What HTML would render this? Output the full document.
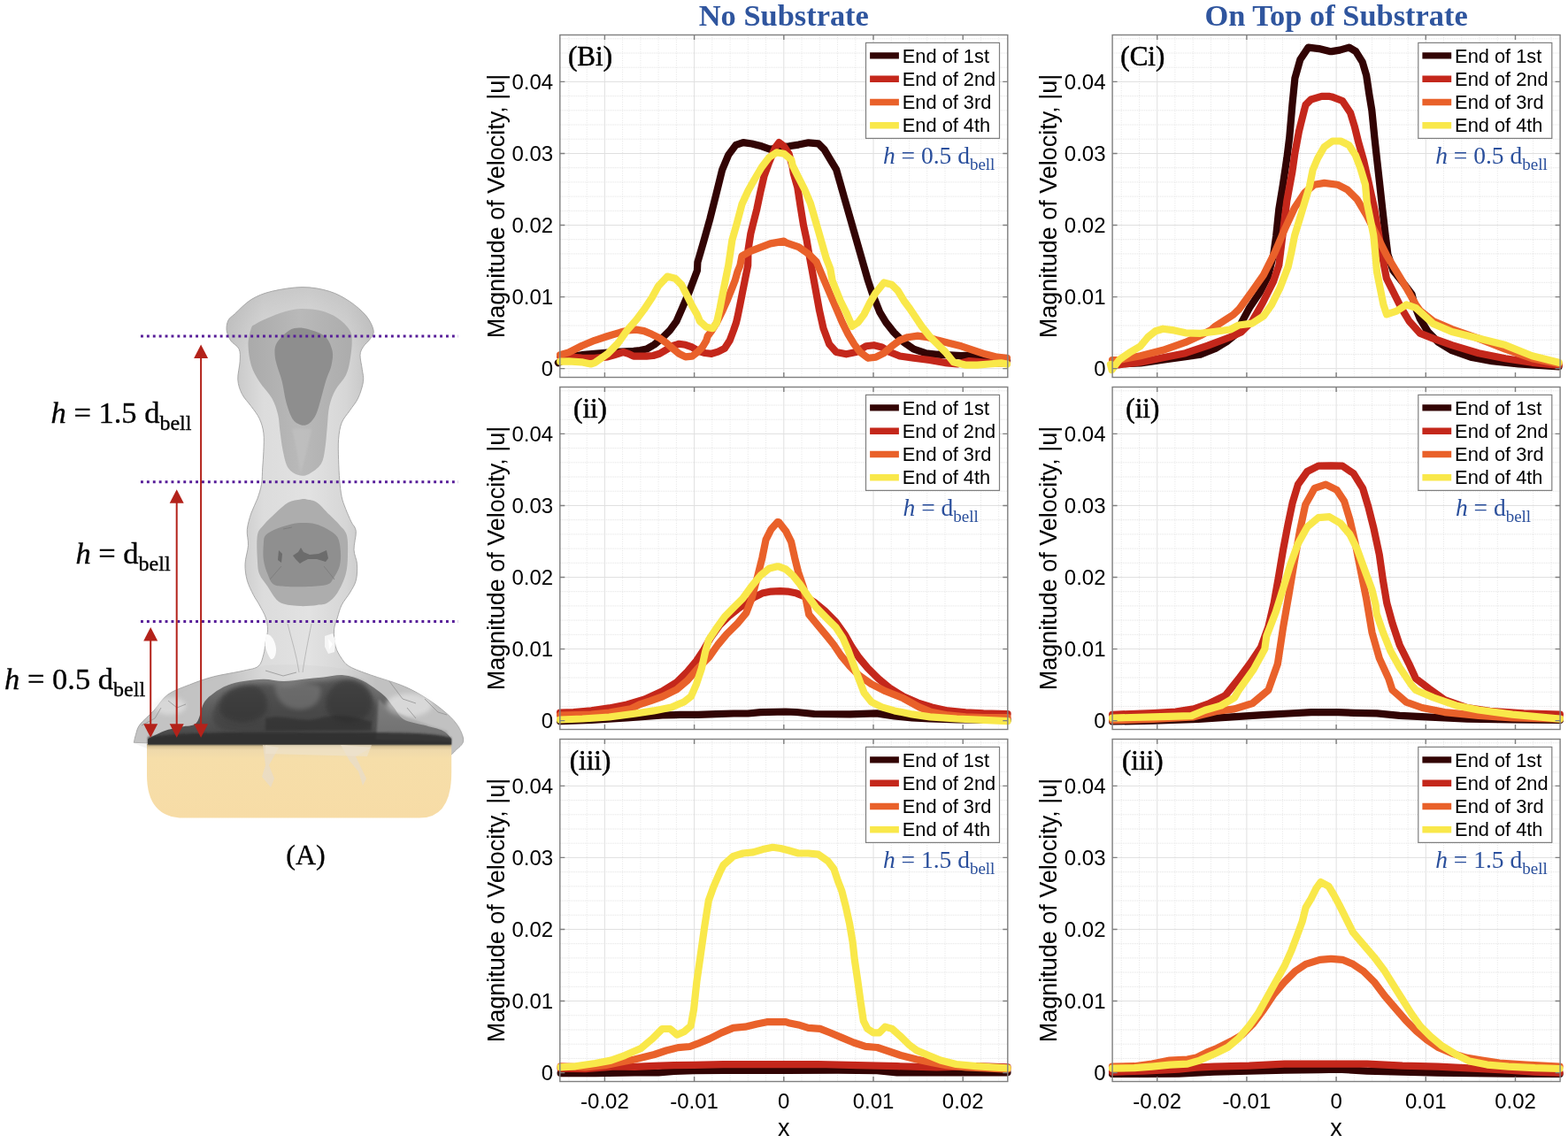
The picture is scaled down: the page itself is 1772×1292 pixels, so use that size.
<!DOCTYPE html><html><head><meta charset="utf-8"><style>html,body{margin:0;padding:0;background:#fff;}svg{display:block}</style></head><body>
<svg width="1772" height="1292" viewBox="0 0 1772 1292">
<rect width="1772" height="1292" fill="#fff"/>
<text x="885.8" y="28.9" font-family="Liberation Serif, serif" font-weight="bold" font-size="34.4" fill="#2f559e" text-anchor="middle">No Substrate</text>
<text x="1510.1" y="28.9" font-family="Liberation Serif, serif" font-weight="bold" font-size="34.4" fill="#2f559e" text-anchor="middle">On Top of Substrate</text>
<path d="M642.9 39.5V426.5M663.2 39.5V426.5M703.6 39.5V426.5M723.9 39.5V426.5M744.1 39.5V426.5M764.4 39.5V426.5M804.8 39.5V426.5M825.1 39.5V426.5M845.3 39.5V426.5M865.6 39.5V426.5M906.0 39.5V426.5M926.3 39.5V426.5M946.5 39.5V426.5M966.8 39.5V426.5M1007.2 39.5V426.5M1027.5 39.5V426.5M1047.7 39.5V426.5M1068.0 39.5V426.5M1108.4 39.5V426.5M1128.7 39.5V426.5" stroke="#e4e4e4" stroke-width="1" stroke-dasharray="1 1.6" fill="none"/>
<path d="M632.8 400.4H1138.8M632.8 384.2H1138.8M632.8 368.0H1138.8M632.8 351.8H1138.8M632.8 319.3H1138.8M632.8 303.1H1138.8M632.8 286.9H1138.8M632.8 270.7H1138.8M632.8 238.3H1138.8M632.8 222.1H1138.8M632.8 205.9H1138.8M632.8 189.7H1138.8M632.8 157.2H1138.8M632.8 141.0H1138.8M632.8 124.8H1138.8M632.8 108.6H1138.8M632.8 76.2H1138.8M632.8 60.0H1138.8M632.8 43.8H1138.8" stroke="#e2e2e2" stroke-width="1" stroke-dasharray="1 1" fill="none"/>
<path d="M683.4 39.5V426.5M784.6 39.5V426.5M885.8 39.5V426.5M987.0 39.5V426.5M632.8 416.6H1138.8M632.8 335.6H1138.8M632.8 254.5H1138.8M632.8 173.5H1138.8M632.8 92.4H1138.8" stroke="#e0e0e0" stroke-width="1" fill="none"/>
<g clip-path="none">
<path d="M630.9 410.1 L642.7 403.4 L657.3 401.2 L672.0 399.8 L686.7 398.6 L701.4 397.6 L716.0 396.8 L723.4 396.1 L730.7 394.6 L739.5 389.5 L748.3 382.2 L757.1 373.4 L764.5 363.1 L770.3 349.9 L774.7 339.6 L779.1 329.3 L783.5 317.6 L787.9 305.9 L788.4 296.3 L795.3 272.6 L802.3 247.6 L809.3 219.7 L816.2 191.8 L823.2 175.1 L831.6 163.9 L839.9 161.1 L849.7 162.5 L860.8 165.3 L870.6 168.8 L880.3 166.7 L891.5 165.3 L902.4 163.6 L913.7 161.3 L924.9 162.4 L931.6 169.2 L938.3 180.4 L945.1 191.6 L949.6 207.3 L954.0 223.0 L958.5 238.7 L963.0 254.4 L967.5 270.1 L972.0 285.9 L976.5 301.6 L981.0 317.3 L985.5 330.7 L989.9 341.9 L994.4 353.2 L1001.2 364.4 L1010.1 375.6 L1021.4 386.8 L1032.6 394.7 L1046.0 399.2 L1059.5 400.7 L1073.0 401.4 L1086.4 402.1 L1099.9 401.4 L1113.4 403.7 L1126.8 405.9 L1138.0 407.0" stroke="#320404" stroke-width="8.2" fill="none" stroke-linejoin="round" stroke-linecap="round"/>
<path d="M633.1 402.7 L642.7 403.4 L657.3 404.5 L672.0 404.9 L686.7 403.4 L694.0 401.2 L704.3 398.0 L710.2 399.8 L716.0 402.7 L723.4 402.7 L730.7 402.7 L738.1 402.0 L745.4 399.8 L752.7 395.4 L760.1 391.0 L767.4 388.8 L774.7 389.8 L782.1 392.4 L789.4 396.8 L796.7 399.0 L804.1 399.8 L811.4 397.6 L818.8 393.9 L824.6 385.1 L829.0 373.4 L832.0 364.6 L833.4 358.7 L836.4 344.0 L839.3 329.3 L842.2 314.7 L845.2 300.0 L845.5 282.4 L848.3 264.3 L851.1 253.1 L855.3 236.4 L859.4 216.9 L863.6 198.8 L869.2 183.4 L876.2 166.7 L880.3 161.1 L885.9 165.3 L891.5 173.7 L895.7 189.0 L896.8 196.1 L901.3 211.8 L904.7 234.2 L908.0 254.4 L911.4 270.1 L913.7 283.6 L917.0 301.6 L921.5 326.2 L926.0 350.9 L930.5 371.1 L937.2 389.1 L945.1 398.0 L956.3 400.3 L967.5 398.0 L978.7 391.3 L987.7 390.2 L996.7 392.4 L1005.7 398.0 L1016.9 402.5 L1032.6 404.8 L1050.5 407.0 L1070.7 410.4 L1081.9 411.5 L1095.4 408.1 L1108.9 409.3 L1122.3 410.4 L1138.0 410.4" stroke="#c4271b" stroke-width="8.2" fill="none" stroke-linejoin="round" stroke-linecap="round"/>
<path d="M633.1 401.2 L642.7 398.3 L657.3 391.0 L672.0 384.8 L686.7 380.0 L701.4 375.6 L710.2 373.4 L719.0 372.6 L727.8 374.1 L736.6 377.8 L745.4 382.2 L752.7 387.3 L760.1 393.9 L767.4 399.8 L774.7 403.4 L782.1 402.7 L787.9 398.3 L793.8 392.4 L798.2 385.1 L799.7 380.0 L804.1 374.1 L810.0 364.6 L815.8 352.8 L821.7 339.6 L827.6 324.9 L830.5 317.6 L833.4 307.3 L836.4 300.0 L838.5 289.4 L848.3 283.8 L859.4 279.6 L870.6 275.4 L885.9 272.6 L889.0 274.6 L902.4 279.1 L913.7 287.0 L922.6 295.9 L926.0 303.8 L931.6 317.3 L938.3 333.0 L945.1 348.7 L951.8 364.4 L958.5 377.8 L965.3 389.1 L972.0 398.0 L981.0 404.8 L989.9 403.7 L998.9 399.2 L1007.9 391.3 L1016.9 384.6 L1025.9 381.2 L1037.1 379.6 L1048.3 381.2 L1059.5 384.6 L1073.0 387.9 L1086.4 391.3 L1099.9 395.8 L1113.4 400.3 L1126.8 403.7 L1138.0 404.8" stroke="#e9612a" stroke-width="8.2" fill="none" stroke-linejoin="round" stroke-linecap="round"/>
<path d="M633.1 408.6 L642.7 408.3 L657.3 409.3 L667.6 411.5 L672.0 410.1 L686.7 399.8 L698.4 388.0 L708.7 373.4 L719.0 361.6 L727.8 349.9 L736.6 336.7 L743.9 323.5 L754.2 312.5 L763.0 314.7 L770.3 322.0 L776.2 333.7 L782.1 345.5 L787.9 355.8 L790.9 363.1 L798.2 369.7 L805.5 371.2 L810.0 364.6 L813.6 348.4 L817.3 329.3 L820.2 314.7 L823.2 300.0 L827.4 271.3 L833.0 251.7 L838.5 230.8 L845.5 215.5 L852.5 203.0 L860.8 189.0 L869.2 177.9 L877.6 172.3 L885.9 173.7 L894.3 180.7 L895.7 187.1 L902.4 200.6 L909.2 214.0 L915.9 229.8 L920.4 245.5 L924.9 261.2 L929.4 276.9 L933.9 292.6 L938.3 303.8 L940.6 317.3 L945.1 328.5 L949.6 339.7 L956.3 353.2 L963.0 368.9 L969.8 364.4 L976.5 355.4 L983.2 341.9 L989.9 330.7 L998.9 319.5 L1007.9 321.8 L1014.6 328.5 L1021.4 339.7 L1028.1 348.7 L1034.8 358.8 L1041.6 368.9 L1050.5 380.1 L1059.5 389.1 L1068.5 398.0 L1077.5 409.3 L1090.9 412.6 L1104.4 412.6 L1117.8 411.5 L1131.3 410.4 L1138.0 411.5" stroke="#f9e84a" stroke-width="8.2" fill="none" stroke-linejoin="round" stroke-linecap="round"/>
</g>
<rect x="632.8" y="39.5" width="506.0" height="387.0" fill="none" stroke="#7f7f7f" stroke-width="1.4"/>
<path d="M683.4 426.5v-5.5M683.4 39.5v5.5M784.6 426.5v-5.5M784.6 39.5v5.5M885.8 426.5v-5.5M885.8 39.5v5.5M987.0 426.5v-5.5M987.0 39.5v5.5M1088.2 426.5v-5.5M1088.2 39.5v5.5M632.8 416.6h5.5M1138.8 416.6h-5.5M632.8 335.6h5.5M1138.8 335.6h-5.5M632.8 254.5h5.5M1138.8 254.5h-5.5M632.8 173.5h5.5M1138.8 173.5h-5.5M632.8 92.4h5.5M1138.8 92.4h-5.5" stroke="#7f7f7f" stroke-width="1.4" fill="none"/>
<text x="625.2" y="425.0" font-family="Liberation Sans, sans-serif" font-size="24" text-anchor="end">0</text>
<text x="625.2" y="343.9" font-family="Liberation Sans, sans-serif" font-size="24" text-anchor="end">0.01</text>
<text x="625.2" y="262.9" font-family="Liberation Sans, sans-serif" font-size="24" text-anchor="end">0.02</text>
<text x="625.2" y="181.9" font-family="Liberation Sans, sans-serif" font-size="24" text-anchor="end">0.03</text>
<text x="625.2" y="100.8" font-family="Liberation Sans, sans-serif" font-size="24" text-anchor="end">0.04</text>
<text transform="translate(570.1,233.0) rotate(-90)" font-family="Liberation Sans, sans-serif" font-size="27" text-anchor="middle">Magnitude of Velocity, |u|</text>
<text x="667.0" y="74.0" font-family="Liberation Serif, serif" font-size="31" stroke="#000" stroke-width="0.55" text-anchor="middle">(Bi)</text>
<rect x="978.5" y="48.4" width="151" height="108" fill="#fff" stroke="#7f7f7f" stroke-width="1.2"/>
<path d="M983.1 62.9h32.8" stroke="#320404" stroke-width="7.4"/>
<text x="1019.8" y="70.5" font-family="Liberation Sans, sans-serif" font-size="21.8">End of 1st</text>
<path d="M983.1 89.2h32.8" stroke="#c4271b" stroke-width="7.4"/>
<text x="1019.8" y="96.8" font-family="Liberation Sans, sans-serif" font-size="21.8">End of 2nd</text>
<path d="M983.1 115.5h32.8" stroke="#e9612a" stroke-width="7.4"/>
<text x="1019.8" y="123.1" font-family="Liberation Sans, sans-serif" font-size="21.8">End of 3rd</text>
<path d="M983.1 141.8h32.8" stroke="#f9e84a" stroke-width="7.4"/>
<text x="1019.8" y="149.4" font-family="Liberation Sans, sans-serif" font-size="21.8">End of 4th</text>
<text x="997.9" y="185.0" font-family="Liberation Serif, serif" font-size="27.5" fill="#2a4f9c"><tspan font-style="italic">h</tspan> = 0.5 d<tspan font-size="19" dy="7">bell</tspan></text>
<path d="M642.9 437.5V824.5M663.2 437.5V824.5M703.6 437.5V824.5M723.9 437.5V824.5M744.1 437.5V824.5M764.4 437.5V824.5M804.8 437.5V824.5M825.1 437.5V824.5M845.3 437.5V824.5M865.6 437.5V824.5M906.0 437.5V824.5M926.3 437.5V824.5M946.5 437.5V824.5M966.8 437.5V824.5M1007.2 437.5V824.5M1027.5 437.5V824.5M1047.7 437.5V824.5M1068.0 437.5V824.5M1108.4 437.5V824.5M1128.7 437.5V824.5" stroke="#e4e4e4" stroke-width="1" stroke-dasharray="1 1.6" fill="none"/>
<path d="M632.8 798.4H1138.8M632.8 782.2H1138.8M632.8 766.0H1138.8M632.8 749.8H1138.8M632.8 717.3H1138.8M632.8 701.1H1138.8M632.8 684.9H1138.8M632.8 668.7H1138.8M632.8 636.3H1138.8M632.8 620.1H1138.8M632.8 603.9H1138.8M632.8 587.7H1138.8M632.8 555.2H1138.8M632.8 539.0H1138.8M632.8 522.8H1138.8M632.8 506.6H1138.8M632.8 474.2H1138.8M632.8 458.0H1138.8M632.8 441.8H1138.8" stroke="#e2e2e2" stroke-width="1" stroke-dasharray="1 1" fill="none"/>
<path d="M683.4 437.5V824.5M784.6 437.5V824.5M885.8 437.5V824.5M987.0 437.5V824.5M632.8 814.6H1138.8M632.8 733.6H1138.8M632.8 652.5H1138.8M632.8 571.5H1138.8M632.8 490.4H1138.8" stroke="#e0e0e0" stroke-width="1" fill="none"/>
<g clip-path="none">
<path d="M633.0 815.1 L668.2 813.9 L708.5 811.5 L728.6 809.9 L748.7 808.5 L768.9 807.9 L789.0 807.9 L809.1 807.1 L829.2 806.5 L845.3 806.5 L859.4 805.1 L888.0 804.5 L900.1 805.0 L920.2 807.0 L960.5 807.4 L990.7 806.4 L1010.8 809.4 L1030.9 811.4 L1051.0 812.5 L1081.2 813.5 L1138.6 813.9" stroke="#320404" stroke-width="8.2" fill="none" stroke-linejoin="round" stroke-linecap="round"/>
<path d="M633.0 805.5 L648.1 805.1 L668.2 803.4 L688.4 800.4 L708.5 796.4 L728.6 790.4 L748.7 781.3 L764.8 771.2 L776.9 759.2 L787.0 747.1 L795.0 735.0 L803.1 720.9 L813.1 706.8 L823.2 696.8 L833.3 688.7 L843.3 681.7 L851.4 675.7 L861.4 670.6 L871.5 668.6 L881.6 668.2 L890.1 668.6 L900.1 670.6 L910.2 674.6 L920.2 680.7 L932.3 690.7 L944.4 702.8 L954.4 716.9 L962.5 731.0 L970.5 743.0 L980.6 755.1 L992.7 767.2 L1004.7 777.2 L1020.8 787.3 L1036.9 794.3 L1053.0 799.4 L1071.1 803.4 L1091.3 805.4 L1111.4 806.4 L1138.6 807.0" stroke="#c4271b" stroke-width="8.2" fill="none" stroke-linejoin="round" stroke-linecap="round"/>
<path d="M633.0 808.5 L668.2 807.5 L688.4 805.5 L712.5 801.4 L722.6 796.4 L734.7 792.4 L748.7 787.3 L764.8 779.3 L776.9 769.2 L789.0 755.1 L801.1 743.1 L811.1 729.0 L821.2 716.9 L833.3 704.8 L843.3 692.8 L849.4 676.7 L855.4 654.5 L861.4 630.4 L865.5 610.2 L871.5 598.2 L878.6 590.1 L880.0 590.1 L888.0 600.2 L894.1 612.3 L898.1 630.4 L902.1 646.5 L908.2 664.6 L914.2 694.7 L924.3 706.8 L934.3 718.9 L942.4 729.0 L950.4 741.0 L960.5 753.1 L970.5 763.2 L984.6 773.2 L1000.7 781.3 L1020.8 789.3 L1039.0 799.4 L1051.0 804.4 L1071.1 808.4 L1091.3 810.4 L1111.4 811.0 L1138.6 811.0" stroke="#e9612a" stroke-width="8.2" fill="none" stroke-linejoin="round" stroke-linecap="round"/>
<path d="M633.0 813.5 L658.2 812.5 L688.4 810.5 L718.6 806.5 L738.7 803.4 L758.8 799.4 L772.9 793.4 L780.9 787.3 L787.0 773.3 L793.0 755.1 L797.0 737.0 L801.1 722.9 L809.1 710.9 L819.2 696.8 L829.2 686.7 L839.3 676.7 L849.4 662.6 L859.4 650.5 L869.5 642.4 L877.5 640.4 L880.0 640.4 L888.0 643.4 L896.1 650.5 L904.1 660.5 L912.2 672.6 L922.3 686.7 L934.3 698.8 L944.4 708.8 L952.4 720.9 L958.5 735.0 L964.5 751.1 L970.5 767.2 L976.6 783.3 L984.6 793.3 L996.7 799.4 L1010.8 803.4 L1030.9 807.4 L1051.0 810.4 L1081.2 812.5 L1111.4 813.9 L1138.6 815.1" stroke="#f9e84a" stroke-width="8.2" fill="none" stroke-linejoin="round" stroke-linecap="round"/>
</g>
<rect x="632.8" y="437.5" width="506.0" height="387.0" fill="none" stroke="#7f7f7f" stroke-width="1.4"/>
<path d="M683.4 824.5v-5.5M683.4 437.5v5.5M784.6 824.5v-5.5M784.6 437.5v5.5M885.8 824.5v-5.5M885.8 437.5v5.5M987.0 824.5v-5.5M987.0 437.5v5.5M1088.2 824.5v-5.5M1088.2 437.5v5.5M632.8 814.6h5.5M1138.8 814.6h-5.5M632.8 733.6h5.5M1138.8 733.6h-5.5M632.8 652.5h5.5M1138.8 652.5h-5.5M632.8 571.5h5.5M1138.8 571.5h-5.5M632.8 490.4h5.5M1138.8 490.4h-5.5" stroke="#7f7f7f" stroke-width="1.4" fill="none"/>
<text x="625.2" y="823.0" font-family="Liberation Sans, sans-serif" font-size="24" text-anchor="end">0</text>
<text x="625.2" y="742.0" font-family="Liberation Sans, sans-serif" font-size="24" text-anchor="end">0.01</text>
<text x="625.2" y="660.9" font-family="Liberation Sans, sans-serif" font-size="24" text-anchor="end">0.02</text>
<text x="625.2" y="579.9" font-family="Liberation Sans, sans-serif" font-size="24" text-anchor="end">0.03</text>
<text x="625.2" y="498.8" font-family="Liberation Sans, sans-serif" font-size="24" text-anchor="end">0.04</text>
<text transform="translate(570.1,631.0) rotate(-90)" font-family="Liberation Sans, sans-serif" font-size="27" text-anchor="middle">Magnitude of Velocity, |u|</text>
<text x="667.0" y="472.0" font-family="Liberation Serif, serif" font-size="31" stroke="#000" stroke-width="0.55" text-anchor="middle">(ii)</text>
<rect x="978.5" y="446.4" width="151" height="108" fill="#fff" stroke="#7f7f7f" stroke-width="1.2"/>
<path d="M983.1 460.9h32.8" stroke="#320404" stroke-width="7.4"/>
<text x="1019.8" y="468.5" font-family="Liberation Sans, sans-serif" font-size="21.8">End of 1st</text>
<path d="M983.1 487.2h32.8" stroke="#c4271b" stroke-width="7.4"/>
<text x="1019.8" y="494.8" font-family="Liberation Sans, sans-serif" font-size="21.8">End of 2nd</text>
<path d="M983.1 513.5h32.8" stroke="#e9612a" stroke-width="7.4"/>
<text x="1019.8" y="521.1" font-family="Liberation Sans, sans-serif" font-size="21.8">End of 3rd</text>
<path d="M983.1 539.8h32.8" stroke="#f9e84a" stroke-width="7.4"/>
<text x="1019.8" y="547.4" font-family="Liberation Sans, sans-serif" font-size="21.8">End of 4th</text>
<text x="1020.6" y="583.0" font-family="Liberation Serif, serif" font-size="27.5" fill="#2a4f9c"><tspan font-style="italic">h</tspan> = d<tspan font-size="19" dy="7">bell</tspan></text>
<path d="M642.9 835.5V1222.5M663.2 835.5V1222.5M703.6 835.5V1222.5M723.9 835.5V1222.5M744.1 835.5V1222.5M764.4 835.5V1222.5M804.8 835.5V1222.5M825.1 835.5V1222.5M845.3 835.5V1222.5M865.6 835.5V1222.5M906.0 835.5V1222.5M926.3 835.5V1222.5M946.5 835.5V1222.5M966.8 835.5V1222.5M1007.2 835.5V1222.5M1027.5 835.5V1222.5M1047.7 835.5V1222.5M1068.0 835.5V1222.5M1108.4 835.5V1222.5M1128.7 835.5V1222.5" stroke="#e4e4e4" stroke-width="1" stroke-dasharray="1 1.6" fill="none"/>
<path d="M632.8 1196.4H1138.8M632.8 1180.2H1138.8M632.8 1164.0H1138.8M632.8 1147.8H1138.8M632.8 1115.3H1138.8M632.8 1099.1H1138.8M632.8 1082.9H1138.8M632.8 1066.7H1138.8M632.8 1034.3H1138.8M632.8 1018.1H1138.8M632.8 1001.9H1138.8M632.8 985.7H1138.8M632.8 953.2H1138.8M632.8 937.0H1138.8M632.8 920.8H1138.8M632.8 904.6H1138.8M632.8 872.2H1138.8M632.8 856.0H1138.8M632.8 839.8H1138.8" stroke="#e2e2e2" stroke-width="1" stroke-dasharray="1 1" fill="none"/>
<path d="M683.4 835.5V1222.5M784.6 835.5V1222.5M885.8 835.5V1222.5M987.0 835.5V1222.5M632.8 1212.6H1138.8M632.8 1131.5H1138.8M632.8 1050.5H1138.8M632.8 969.4H1138.8M632.8 888.4H1138.8" stroke="#e0e0e0" stroke-width="1" fill="none"/>
<g clip-path="none">
<path d="M633.6 1213.1 L672.6 1213.1 L717.2 1212.5 L743.9 1212.5 L761.8 1210.9 L784.1 1210.2 L817.5 1209.8 L851.0 1209.8 L888.0 1209.8 L946.9 1209.7 L991.4 1210.1 L1013.7 1212.3 L1058.3 1212.3 L1102.9 1212.3 L1138.5 1212.3" stroke="#320404" stroke-width="8.2" fill="none" stroke-linejoin="round" stroke-linecap="round"/>
<path d="M633.6 1207.6 L661.4 1208.2 L683.7 1206.4 L694.9 1205.3 L717.2 1205.8 L739.5 1204.9 L761.8 1204.2 L784.1 1203.8 L817.5 1203.1 L851.0 1203.1 L888.0 1203.1 L924.6 1203.0 L969.1 1204.1 L1013.7 1205.2 L1058.3 1206.3 L1102.9 1205.2 L1138.5 1206.3" stroke="#c4271b" stroke-width="8.2" fill="none" stroke-linejoin="round" stroke-linecap="round"/>
<path d="M633.6 1205.3 L661.4 1206.4 L683.7 1204.2 L699.3 1200.9 L717.2 1197.5 L739.5 1192.0 L752.9 1187.5 L766.2 1184.1 L779.6 1183.0 L788.5 1179.7 L801.9 1174.1 L815.3 1167.4 L828.7 1161.9 L842.0 1160.7 L855.4 1157.4 L866.6 1155.2 L888.0 1155.2 L891.1 1156.2 L902.3 1158.4 L913.4 1161.8 L926.8 1162.9 L937.9 1167.3 L951.3 1172.9 L964.7 1178.5 L978.1 1182.9 L991.4 1184.0 L1004.8 1188.5 L1018.2 1193.0 L1036.0 1197.4 L1053.8 1201.2 L1069.4 1204.1 L1091.7 1206.3 L1114.0 1207.4 L1138.5 1208.6" stroke="#e9612a" stroke-width="8.2" fill="none" stroke-linejoin="round" stroke-linecap="round"/>
<path d="M633.6 1206.4 L650.3 1205.3 L672.6 1202.0 L690.4 1198.6 L706.0 1193.1 L723.9 1185.3 L737.3 1174.1 L748.4 1163.0 L757.3 1163.0 L765.1 1169.7 L772.9 1166.3 L780.7 1159.6 L784.1 1140.7 L787.4 1109.5 L791.9 1078.2 L796.3 1047.0 L800.8 1018.0 L806.4 1002.4 L813.1 986.8 L817.5 977.9 L828.7 967.9 L839.8 964.5 L851.0 963.4 L862.1 960.1 L873.3 957.8 L882.2 959.0 L891.1 961.2 L902.3 964.5 L913.4 964.5 L924.6 965.6 L935.7 973.4 L942.4 982.3 L946.9 995.7 L951.3 1006.9 L955.8 1024.7 L960.2 1044.7 L963.6 1064.8 L965.8 1084.9 L969.1 1107.1 L972.5 1131.7 L975.8 1154.0 L980.3 1162.9 L987.0 1167.3 L993.7 1167.3 L1000.3 1160.6 L1008.1 1162.9 L1018.2 1171.8 L1027.1 1180.7 L1036.0 1187.4 L1049.4 1193.0 L1062.8 1198.5 L1080.6 1203.0 L1102.9 1205.2 L1120.7 1206.3 L1138.5 1207.4" stroke="#f9e84a" stroke-width="8.2" fill="none" stroke-linejoin="round" stroke-linecap="round"/>
</g>
<rect x="632.8" y="835.5" width="506.0" height="387.0" fill="none" stroke="#7f7f7f" stroke-width="1.4"/>
<path d="M683.4 1222.5v-5.5M683.4 835.5v5.5M784.6 1222.5v-5.5M784.6 835.5v5.5M885.8 1222.5v-5.5M885.8 835.5v5.5M987.0 1222.5v-5.5M987.0 835.5v5.5M1088.2 1222.5v-5.5M1088.2 835.5v5.5M632.8 1212.6h5.5M1138.8 1212.6h-5.5M632.8 1131.5h5.5M1138.8 1131.5h-5.5M632.8 1050.5h5.5M1138.8 1050.5h-5.5M632.8 969.4h5.5M1138.8 969.4h-5.5M632.8 888.4h5.5M1138.8 888.4h-5.5" stroke="#7f7f7f" stroke-width="1.4" fill="none"/>
<text x="625.2" y="1221.0" font-family="Liberation Sans, sans-serif" font-size="24" text-anchor="end">0</text>
<text x="625.2" y="1140.0" font-family="Liberation Sans, sans-serif" font-size="24" text-anchor="end">0.01</text>
<text x="625.2" y="1058.9" font-family="Liberation Sans, sans-serif" font-size="24" text-anchor="end">0.02</text>
<text x="625.2" y="977.8" font-family="Liberation Sans, sans-serif" font-size="24" text-anchor="end">0.03</text>
<text x="625.2" y="896.8" font-family="Liberation Sans, sans-serif" font-size="24" text-anchor="end">0.04</text>
<text transform="translate(570.1,1029.0) rotate(-90)" font-family="Liberation Sans, sans-serif" font-size="27" text-anchor="middle">Magnitude of Velocity, |u|</text>
<text x="683.4" y="1252.5" font-family="Liberation Sans, sans-serif" font-size="24" text-anchor="middle">-0.02</text>
<text x="784.6" y="1252.5" font-family="Liberation Sans, sans-serif" font-size="24" text-anchor="middle">-0.01</text>
<text x="885.8" y="1252.5" font-family="Liberation Sans, sans-serif" font-size="24" text-anchor="middle">0</text>
<text x="987.0" y="1252.5" font-family="Liberation Sans, sans-serif" font-size="24" text-anchor="middle">0.01</text>
<text x="1088.2" y="1252.5" font-family="Liberation Sans, sans-serif" font-size="24" text-anchor="middle">0.02</text>
<text x="885.8" y="1284" font-family="Liberation Sans, sans-serif" font-size="27" text-anchor="middle">x</text>
<text x="667.0" y="870.0" font-family="Liberation Serif, serif" font-size="31" stroke="#000" stroke-width="0.55" text-anchor="middle">(iii)</text>
<rect x="978.5" y="844.4" width="151" height="108" fill="#fff" stroke="#7f7f7f" stroke-width="1.2"/>
<path d="M983.1 858.9h32.8" stroke="#320404" stroke-width="7.4"/>
<text x="1019.8" y="866.5" font-family="Liberation Sans, sans-serif" font-size="21.8">End of 1st</text>
<path d="M983.1 885.2h32.8" stroke="#c4271b" stroke-width="7.4"/>
<text x="1019.8" y="892.8" font-family="Liberation Sans, sans-serif" font-size="21.8">End of 2nd</text>
<path d="M983.1 911.5h32.8" stroke="#e9612a" stroke-width="7.4"/>
<text x="1019.8" y="919.1" font-family="Liberation Sans, sans-serif" font-size="21.8">End of 3rd</text>
<path d="M983.1 937.8h32.8" stroke="#f9e84a" stroke-width="7.4"/>
<text x="1019.8" y="945.4" font-family="Liberation Sans, sans-serif" font-size="21.8">End of 4th</text>
<text x="997.9" y="981.0" font-family="Liberation Serif, serif" font-size="27.5" fill="#2a4f9c"><tspan font-style="italic">h</tspan> = 1.5 d<tspan font-size="19" dy="7">bell</tspan></text>
<path d="M1267.2 39.5V426.5M1287.5 39.5V426.5M1327.9 39.5V426.5M1348.2 39.5V426.5M1368.4 39.5V426.5M1388.7 39.5V426.5M1429.1 39.5V426.5M1449.4 39.5V426.5M1469.6 39.5V426.5M1489.9 39.5V426.5M1530.3 39.5V426.5M1550.6 39.5V426.5M1570.8 39.5V426.5M1591.1 39.5V426.5M1631.5 39.5V426.5M1651.8 39.5V426.5M1672.0 39.5V426.5M1692.3 39.5V426.5M1732.7 39.5V426.5M1753.0 39.5V426.5" stroke="#e4e4e4" stroke-width="1" stroke-dasharray="1 1.6" fill="none"/>
<path d="M1257.1 400.4H1763.1M1257.1 384.2H1763.1M1257.1 368.0H1763.1M1257.1 351.8H1763.1M1257.1 319.3H1763.1M1257.1 303.1H1763.1M1257.1 286.9H1763.1M1257.1 270.7H1763.1M1257.1 238.3H1763.1M1257.1 222.1H1763.1M1257.1 205.9H1763.1M1257.1 189.7H1763.1M1257.1 157.2H1763.1M1257.1 141.0H1763.1M1257.1 124.8H1763.1M1257.1 108.6H1763.1M1257.1 76.2H1763.1M1257.1 60.0H1763.1M1257.1 43.8H1763.1" stroke="#e2e2e2" stroke-width="1" stroke-dasharray="1 1" fill="none"/>
<path d="M1307.7 39.5V426.5M1408.9 39.5V426.5M1510.1 39.5V426.5M1611.3 39.5V426.5M1257.1 416.6H1763.1M1257.1 335.6H1763.1M1257.1 254.5H1763.1M1257.1 173.5H1763.1M1257.1 92.4H1763.1" stroke="#e0e0e0" stroke-width="1" fill="none"/>
<g clip-path="none">
<path d="M1257.0 411.5 L1265.2 411.2 L1288.9 410.4 L1314.3 406.6 L1339.7 403.2 L1356.6 400.6 L1373.5 393.9 L1386.2 386.3 L1398.9 376.1 L1403.0 364.6 L1412.0 348.0 L1424.1 329.9 L1433.2 311.8 L1439.2 287.6 L1442.2 266.5 L1445.3 236.3 L1449.8 209.1 L1454.3 178.9 L1457.3 154.8 L1460.4 118.5 L1463.4 88.3 L1469.4 67.2 L1478.5 53.6 L1490.6 55.1 L1502.6 58.1 L1505.0 58.1 L1514.1 56.6 L1524.6 53.6 L1532.2 58.1 L1539.7 70.2 L1544.2 85.3 L1547.3 106.4 L1550.3 124.5 L1553.3 154.7 L1556.3 181.9 L1559.3 209.0 L1562.3 236.2 L1565.4 263.4 L1568.4 287.5 L1574.4 305.6 L1586.5 320.7 L1595.6 332.8 L1598.6 344.9 L1604.6 360.0 L1613.7 375.0 L1625.7 387.1 L1640.8 396.2 L1662.0 403.7 L1686.1 408.2 L1716.3 411.3 L1761.6 414.3" stroke="#320404" stroke-width="8.2" fill="none" stroke-linejoin="round" stroke-linecap="round"/>
<path d="M1257.0 412.5 L1265.2 412.3 L1288.9 409.4 L1314.3 404.3 L1339.7 399.2 L1365.0 390.7 L1390.4 381.0 L1403.0 375.2 L1415.1 363.1 L1427.1 342.0 L1439.2 317.8 L1445.3 299.7 L1448.3 275.5 L1451.3 251.4 L1454.3 227.2 L1460.4 194.0 L1463.4 172.9 L1467.9 148.7 L1470.9 136.6 L1475.5 118.5 L1481.5 112.5 L1493.6 108.9 L1502.6 108.9 L1505.0 109.4 L1517.1 114.0 L1526.1 127.5 L1530.7 142.6 L1535.2 160.7 L1541.2 181.9 L1547.3 209.0 L1553.3 236.2 L1557.8 263.4 L1562.3 290.5 L1566.9 314.7 L1574.4 329.8 L1583.5 347.9 L1592.5 363.0 L1604.6 376.6 L1619.7 382.6 L1640.8 390.1 L1671.0 399.2 L1701.2 405.2 L1731.4 409.8 L1761.6 412.8" stroke="#c4271b" stroke-width="8.2" fill="none" stroke-linejoin="round" stroke-linecap="round"/>
<path d="M1257.0 407.0 L1265.2 406.8 L1288.9 402.2 L1314.3 395.8 L1339.7 386.9 L1356.6 379.3 L1369.3 372.5 L1372.8 369.2 L1393.9 355.6 L1400.0 349.8 L1414.9 329.4 L1427.9 310.8 L1440.9 284.8 L1452.0 258.8 L1463.1 234.7 L1474.3 218.0 L1485.4 208.7 L1496.6 206.9 L1511.4 208.7 L1522.6 214.3 L1533.7 225.4 L1544.8 244.0 L1556.0 266.3 L1567.1 288.6 L1578.3 307.1 L1589.4 325.7 L1600.0 344.3 L1604.6 350.9 L1619.7 363.0 L1640.8 372.0 L1671.0 382.6 L1701.2 394.7 L1731.4 405.2 L1761.6 411.3" stroke="#e9612a" stroke-width="8.2" fill="none" stroke-linejoin="round" stroke-linecap="round"/>
<path d="M1255.0 412.0 L1256.5 418.0 L1265.2 406.4 L1276.2 398.8 L1288.9 391.2 L1297.3 381.0 L1305.8 374.2 L1314.3 371.7 L1327.0 373.4 L1339.7 376.3 L1356.6 376.8 L1373.5 374.7 L1390.4 372.5 L1400.0 367.5 L1414.9 365.6 L1427.9 357.3 L1437.1 344.3 L1446.4 325.7 L1455.7 301.6 L1459.4 284.8 L1463.1 266.3 L1468.7 247.7 L1474.3 229.1 L1479.9 210.6 L1483.6 192.0 L1489.1 179.0 L1496.6 166.0 L1505.8 159.5 L1515.1 159.5 L1524.4 164.1 L1531.8 175.3 L1537.4 190.1 L1543.0 208.7 L1544.8 229.1 L1548.6 247.7 L1552.3 266.3 L1554.1 284.8 L1556.0 307.1 L1559.7 325.7 L1563.4 344.3 L1567.1 355.4 L1578.3 351.7 L1589.4 344.3 L1600.0 348.0 L1619.7 366.0 L1640.8 375.0 L1671.0 382.6 L1701.2 390.1 L1731.4 402.2 L1761.6 409.8" stroke="#f9e84a" stroke-width="8.2" fill="none" stroke-linejoin="round" stroke-linecap="round"/>
</g>
<rect x="1257.1" y="39.5" width="506.0" height="387.0" fill="none" stroke="#7f7f7f" stroke-width="1.4"/>
<path d="M1307.7 426.5v-5.5M1307.7 39.5v5.5M1408.9 426.5v-5.5M1408.9 39.5v5.5M1510.1 426.5v-5.5M1510.1 39.5v5.5M1611.3 426.5v-5.5M1611.3 39.5v5.5M1712.5 426.5v-5.5M1712.5 39.5v5.5M1257.1 416.6h5.5M1763.1 416.6h-5.5M1257.1 335.6h5.5M1763.1 335.6h-5.5M1257.1 254.5h5.5M1763.1 254.5h-5.5M1257.1 173.5h5.5M1763.1 173.5h-5.5M1257.1 92.4h5.5M1763.1 92.4h-5.5" stroke="#7f7f7f" stroke-width="1.4" fill="none"/>
<text x="1249.5" y="425.0" font-family="Liberation Sans, sans-serif" font-size="24" text-anchor="end">0</text>
<text x="1249.5" y="343.9" font-family="Liberation Sans, sans-serif" font-size="24" text-anchor="end">0.01</text>
<text x="1249.5" y="262.9" font-family="Liberation Sans, sans-serif" font-size="24" text-anchor="end">0.02</text>
<text x="1249.5" y="181.9" font-family="Liberation Sans, sans-serif" font-size="24" text-anchor="end">0.03</text>
<text x="1249.5" y="100.8" font-family="Liberation Sans, sans-serif" font-size="24" text-anchor="end">0.04</text>
<text transform="translate(1194.4,233.0) rotate(-90)" font-family="Liberation Sans, sans-serif" font-size="27" text-anchor="middle">Magnitude of Velocity, |u|</text>
<text x="1291.3" y="74.0" font-family="Liberation Serif, serif" font-size="31" stroke="#000" stroke-width="0.55" text-anchor="middle">(Ci)</text>
<rect x="1602.8" y="48.4" width="151" height="108" fill="#fff" stroke="#7f7f7f" stroke-width="1.2"/>
<path d="M1607.4 62.9h32.8" stroke="#320404" stroke-width="7.4"/>
<text x="1644.1" y="70.5" font-family="Liberation Sans, sans-serif" font-size="21.8">End of 1st</text>
<path d="M1607.4 89.2h32.8" stroke="#c4271b" stroke-width="7.4"/>
<text x="1644.1" y="96.8" font-family="Liberation Sans, sans-serif" font-size="21.8">End of 2nd</text>
<path d="M1607.4 115.5h32.8" stroke="#e9612a" stroke-width="7.4"/>
<text x="1644.1" y="123.1" font-family="Liberation Sans, sans-serif" font-size="21.8">End of 3rd</text>
<path d="M1607.4 141.8h32.8" stroke="#f9e84a" stroke-width="7.4"/>
<text x="1644.1" y="149.4" font-family="Liberation Sans, sans-serif" font-size="21.8">End of 4th</text>
<text x="1622.2" y="185.0" font-family="Liberation Serif, serif" font-size="27.5" fill="#2a4f9c"><tspan font-style="italic">h</tspan> = 0.5 d<tspan font-size="19" dy="7">bell</tspan></text>
<path d="M1267.2 437.5V824.5M1287.5 437.5V824.5M1327.9 437.5V824.5M1348.2 437.5V824.5M1368.4 437.5V824.5M1388.7 437.5V824.5M1429.1 437.5V824.5M1449.4 437.5V824.5M1469.6 437.5V824.5M1489.9 437.5V824.5M1530.3 437.5V824.5M1550.6 437.5V824.5M1570.8 437.5V824.5M1591.1 437.5V824.5M1631.5 437.5V824.5M1651.8 437.5V824.5M1672.0 437.5V824.5M1692.3 437.5V824.5M1732.7 437.5V824.5M1753.0 437.5V824.5" stroke="#e4e4e4" stroke-width="1" stroke-dasharray="1 1.6" fill="none"/>
<path d="M1257.1 798.4H1763.1M1257.1 782.2H1763.1M1257.1 766.0H1763.1M1257.1 749.8H1763.1M1257.1 717.3H1763.1M1257.1 701.1H1763.1M1257.1 684.9H1763.1M1257.1 668.7H1763.1M1257.1 636.3H1763.1M1257.1 620.1H1763.1M1257.1 603.9H1763.1M1257.1 587.7H1763.1M1257.1 555.2H1763.1M1257.1 539.0H1763.1M1257.1 522.8H1763.1M1257.1 506.6H1763.1M1257.1 474.2H1763.1M1257.1 458.0H1763.1M1257.1 441.8H1763.1" stroke="#e2e2e2" stroke-width="1" stroke-dasharray="1 1" fill="none"/>
<path d="M1307.7 437.5V824.5M1408.9 437.5V824.5M1510.1 437.5V824.5M1611.3 437.5V824.5M1257.1 814.6H1763.1M1257.1 733.6H1763.1M1257.1 652.5H1763.1M1257.1 571.5H1763.1M1257.1 490.4H1763.1" stroke="#e0e0e0" stroke-width="1" fill="none"/>
<g clip-path="none">
<path d="M1257.1 815.5 L1303.1 814.7 L1354.2 812.9 L1392.5 810.3 L1430.8 807.8 L1456.3 806.5 L1481.9 805.2 L1512.0 805.2 L1530.5 805.8 L1556.1 806.4 L1581.6 808.9 L1607.1 810.2 L1632.6 811.5 L1658.2 812.7 L1709.2 813.5 L1762.9 814.0" stroke="#320404" stroke-width="8.2" fill="none" stroke-linejoin="round" stroke-linecap="round"/>
<path d="M1257.1 807.8 L1303.1 806.0 L1328.6 804.5 L1349.1 801.4 L1366.9 795.0 L1384.8 786.1 L1400.0 767.1 L1412.5 750.3 L1425.1 731.5 L1433.4 708.5 L1439.7 681.4 L1444.9 652.1 L1450.2 620.8 L1455.4 593.6 L1460.6 568.5 L1466.9 547.6 L1477.3 533.0 L1489.9 526.7 L1504.5 526.3 L1517.0 526.7 L1529.6 535.1 L1540.0 551.8 L1546.3 572.7 L1552.6 597.8 L1558.8 627.0 L1563.0 656.3 L1567.2 681.4 L1573.5 704.4 L1581.8 729.4 L1592.3 750.3 L1600.0 767.1 L1614.8 778.3 L1632.6 791.0 L1658.2 800.0 L1683.7 803.8 L1722.0 806.4 L1762.9 807.6" stroke="#c4271b" stroke-width="8.2" fill="none" stroke-linejoin="round" stroke-linecap="round"/>
<path d="M1257.1 814.2 L1303.1 812.9 L1349.1 810.3 L1374.6 804.0 L1395.0 801.4 L1415.5 795.0 L1433.4 780.0 L1443.9 750.3 L1450.2 708.5 L1456.4 673.0 L1462.7 635.4 L1469.0 599.9 L1475.2 570.6 L1485.7 551.8 L1498.2 547.6 L1510.8 553.9 L1519.1 566.4 L1525.4 587.3 L1531.7 614.5 L1537.9 645.8 L1544.2 677.2 L1550.5 714.8 L1558.8 744.1 L1569.3 767.1 L1573.5 780.0 L1589.2 793.6 L1607.1 800.0 L1632.6 805.1 L1670.9 808.9 L1709.2 811.5 L1762.9 812.7" stroke="#e9612a" stroke-width="8.2" fill="none" stroke-linejoin="round" stroke-linecap="round"/>
<path d="M1257.1 811.6 L1303.1 810.3 L1346.5 809.1 L1361.8 802.7 L1379.7 797.6 L1395.0 788.6 L1400.0 780.0 L1416.7 756.6 L1429.3 733.6 L1431.3 719.0 L1441.8 691.8 L1450.2 664.6 L1458.5 637.5 L1466.9 614.5 L1477.3 595.7 L1489.9 585.2 L1502.4 584.2 L1514.9 591.5 L1525.4 604.0 L1533.8 620.8 L1542.1 643.8 L1550.5 666.7 L1554.6 683.5 L1555.7 693.9 L1563.0 714.8 L1571.4 735.7 L1581.8 754.5 L1594.4 773.3 L1600.0 780.0 L1619.9 788.5 L1645.4 797.4 L1670.9 802.5 L1709.2 807.6 L1762.9 812.7" stroke="#f9e84a" stroke-width="8.2" fill="none" stroke-linejoin="round" stroke-linecap="round"/>
</g>
<rect x="1257.1" y="437.5" width="506.0" height="387.0" fill="none" stroke="#7f7f7f" stroke-width="1.4"/>
<path d="M1307.7 824.5v-5.5M1307.7 437.5v5.5M1408.9 824.5v-5.5M1408.9 437.5v5.5M1510.1 824.5v-5.5M1510.1 437.5v5.5M1611.3 824.5v-5.5M1611.3 437.5v5.5M1712.5 824.5v-5.5M1712.5 437.5v5.5M1257.1 814.6h5.5M1763.1 814.6h-5.5M1257.1 733.6h5.5M1763.1 733.6h-5.5M1257.1 652.5h5.5M1763.1 652.5h-5.5M1257.1 571.5h5.5M1763.1 571.5h-5.5M1257.1 490.4h5.5M1763.1 490.4h-5.5" stroke="#7f7f7f" stroke-width="1.4" fill="none"/>
<text x="1249.5" y="823.0" font-family="Liberation Sans, sans-serif" font-size="24" text-anchor="end">0</text>
<text x="1249.5" y="742.0" font-family="Liberation Sans, sans-serif" font-size="24" text-anchor="end">0.01</text>
<text x="1249.5" y="660.9" font-family="Liberation Sans, sans-serif" font-size="24" text-anchor="end">0.02</text>
<text x="1249.5" y="579.9" font-family="Liberation Sans, sans-serif" font-size="24" text-anchor="end">0.03</text>
<text x="1249.5" y="498.8" font-family="Liberation Sans, sans-serif" font-size="24" text-anchor="end">0.04</text>
<text transform="translate(1194.4,631.0) rotate(-90)" font-family="Liberation Sans, sans-serif" font-size="27" text-anchor="middle">Magnitude of Velocity, |u|</text>
<text x="1291.3" y="472.0" font-family="Liberation Serif, serif" font-size="31" stroke="#000" stroke-width="0.55" text-anchor="middle">(ii)</text>
<rect x="1602.8" y="446.4" width="151" height="108" fill="#fff" stroke="#7f7f7f" stroke-width="1.2"/>
<path d="M1607.4 460.9h32.8" stroke="#320404" stroke-width="7.4"/>
<text x="1644.1" y="468.5" font-family="Liberation Sans, sans-serif" font-size="21.8">End of 1st</text>
<path d="M1607.4 487.2h32.8" stroke="#c4271b" stroke-width="7.4"/>
<text x="1644.1" y="494.8" font-family="Liberation Sans, sans-serif" font-size="21.8">End of 2nd</text>
<path d="M1607.4 513.5h32.8" stroke="#e9612a" stroke-width="7.4"/>
<text x="1644.1" y="521.1" font-family="Liberation Sans, sans-serif" font-size="21.8">End of 3rd</text>
<path d="M1607.4 539.8h32.8" stroke="#f9e84a" stroke-width="7.4"/>
<text x="1644.1" y="547.4" font-family="Liberation Sans, sans-serif" font-size="21.8">End of 4th</text>
<text x="1644.9" y="583.0" font-family="Liberation Serif, serif" font-size="27.5" fill="#2a4f9c"><tspan font-style="italic">h</tspan> = d<tspan font-size="19" dy="7">bell</tspan></text>
<path d="M1267.2 835.5V1222.5M1287.5 835.5V1222.5M1327.9 835.5V1222.5M1348.2 835.5V1222.5M1368.4 835.5V1222.5M1388.7 835.5V1222.5M1429.1 835.5V1222.5M1449.4 835.5V1222.5M1469.6 835.5V1222.5M1489.9 835.5V1222.5M1530.3 835.5V1222.5M1550.6 835.5V1222.5M1570.8 835.5V1222.5M1591.1 835.5V1222.5M1631.5 835.5V1222.5M1651.8 835.5V1222.5M1672.0 835.5V1222.5M1692.3 835.5V1222.5M1732.7 835.5V1222.5M1753.0 835.5V1222.5" stroke="#e4e4e4" stroke-width="1" stroke-dasharray="1 1.6" fill="none"/>
<path d="M1257.1 1196.4H1763.1M1257.1 1180.2H1763.1M1257.1 1164.0H1763.1M1257.1 1147.8H1763.1M1257.1 1115.3H1763.1M1257.1 1099.1H1763.1M1257.1 1082.9H1763.1M1257.1 1066.7H1763.1M1257.1 1034.3H1763.1M1257.1 1018.1H1763.1M1257.1 1001.9H1763.1M1257.1 985.7H1763.1M1257.1 953.2H1763.1M1257.1 937.0H1763.1M1257.1 920.8H1763.1M1257.1 904.6H1763.1M1257.1 872.2H1763.1M1257.1 856.0H1763.1M1257.1 839.8H1763.1" stroke="#e2e2e2" stroke-width="1" stroke-dasharray="1 1" fill="none"/>
<path d="M1307.7 835.5V1222.5M1408.9 835.5V1222.5M1510.1 835.5V1222.5M1611.3 835.5V1222.5M1257.1 1212.6H1763.1M1257.1 1131.5H1763.1M1257.1 1050.5H1763.1M1257.1 969.4H1763.1M1257.1 888.4H1763.1" stroke="#e0e0e0" stroke-width="1" fill="none"/>
<g clip-path="none">
<path d="M1257.0 1214.0 L1291.9 1214.0 L1331.9 1213.6 L1371.8 1211.6 L1411.7 1210.6 L1451.7 1209.6 L1491.6 1209.2 L1512.0 1208.6 L1544.9 1210.6 L1584.9 1211.6 L1624.8 1212.6 L1664.7 1213.2 L1704.7 1213.6 L1762.6 1214.0" stroke="#320404" stroke-width="8.2" fill="none" stroke-linejoin="round" stroke-linecap="round"/>
<path d="M1257.0 1211.6 L1291.9 1210.6 L1331.9 1208.6 L1351.8 1206.6 L1371.8 1205.6 L1411.7 1204.6 L1451.7 1202.6 L1491.6 1202.6 L1512.0 1202.6 L1544.9 1202.6 L1584.9 1204.6 L1624.8 1205.6 L1664.7 1207.6 L1704.7 1209.6 L1734.6 1211.6 L1762.6 1212.6" stroke="#c4271b" stroke-width="8.2" fill="none" stroke-linejoin="round" stroke-linecap="round"/>
<path d="M1257.0 1205.6 L1282.0 1205.2 L1301.9 1202.6 L1321.9 1198.6 L1341.9 1197.6 L1351.8 1195.6 L1363.8 1189.6 L1375.8 1184.7 L1391.8 1176.7 L1403.8 1169.7 L1415.7 1157.7 L1427.7 1141.7 L1439.7 1123.8 L1451.7 1109.8 L1463.7 1097.8 L1475.6 1089.8 L1491.6 1084.8 L1503.6 1083.8 L1505.0 1083.8 L1517.0 1084.8 L1529.0 1089.8 L1540.9 1097.8 L1552.9 1109.8 L1564.9 1125.8 L1576.9 1139.7 L1588.9 1153.7 L1600.8 1165.7 L1612.8 1175.7 L1624.8 1183.7 L1640.8 1190.6 L1656.8 1195.6 L1674.7 1198.6 L1694.7 1201.6 L1724.6 1203.6 L1762.6 1205.6" stroke="#e9612a" stroke-width="8.2" fill="none" stroke-linejoin="round" stroke-linecap="round"/>
<path d="M1257.0 1207.6 L1282.0 1207.2 L1301.9 1205.6 L1321.9 1203.6 L1341.9 1202.6 L1355.8 1198.6 L1371.8 1191.6 L1387.8 1183.7 L1399.8 1173.7 L1411.7 1159.7 L1421.7 1145.7 L1431.7 1127.7 L1441.7 1109.8 L1451.7 1091.8 L1459.7 1073.8 L1465.7 1057.9 L1471.6 1041.9 L1475.6 1025.9 L1481.6 1015.9 L1487.6 1003.9 L1492.6 997.0 L1501.6 1001.9 L1507.6 1011.9 L1513.0 1021.9 L1521.0 1037.9 L1529.0 1053.9 L1540.9 1067.8 L1552.9 1081.8 L1564.9 1097.8 L1574.9 1113.8 L1584.9 1129.7 L1594.9 1145.7 L1604.8 1159.7 L1616.8 1171.7 L1628.8 1181.7 L1644.8 1191.6 L1660.8 1199.6 L1680.7 1203.6 L1704.7 1205.6 L1734.6 1207.2 L1762.6 1208.0" stroke="#f9e84a" stroke-width="8.2" fill="none" stroke-linejoin="round" stroke-linecap="round"/>
</g>
<rect x="1257.1" y="835.5" width="506.0" height="387.0" fill="none" stroke="#7f7f7f" stroke-width="1.4"/>
<path d="M1307.7 1222.5v-5.5M1307.7 835.5v5.5M1408.9 1222.5v-5.5M1408.9 835.5v5.5M1510.1 1222.5v-5.5M1510.1 835.5v5.5M1611.3 1222.5v-5.5M1611.3 835.5v5.5M1712.5 1222.5v-5.5M1712.5 835.5v5.5M1257.1 1212.6h5.5M1763.1 1212.6h-5.5M1257.1 1131.5h5.5M1763.1 1131.5h-5.5M1257.1 1050.5h5.5M1763.1 1050.5h-5.5M1257.1 969.4h5.5M1763.1 969.4h-5.5M1257.1 888.4h5.5M1763.1 888.4h-5.5" stroke="#7f7f7f" stroke-width="1.4" fill="none"/>
<text x="1249.5" y="1221.0" font-family="Liberation Sans, sans-serif" font-size="24" text-anchor="end">0</text>
<text x="1249.5" y="1140.0" font-family="Liberation Sans, sans-serif" font-size="24" text-anchor="end">0.01</text>
<text x="1249.5" y="1058.9" font-family="Liberation Sans, sans-serif" font-size="24" text-anchor="end">0.02</text>
<text x="1249.5" y="977.8" font-family="Liberation Sans, sans-serif" font-size="24" text-anchor="end">0.03</text>
<text x="1249.5" y="896.8" font-family="Liberation Sans, sans-serif" font-size="24" text-anchor="end">0.04</text>
<text transform="translate(1194.4,1029.0) rotate(-90)" font-family="Liberation Sans, sans-serif" font-size="27" text-anchor="middle">Magnitude of Velocity, |u|</text>
<text x="1307.7" y="1252.5" font-family="Liberation Sans, sans-serif" font-size="24" text-anchor="middle">-0.02</text>
<text x="1408.9" y="1252.5" font-family="Liberation Sans, sans-serif" font-size="24" text-anchor="middle">-0.01</text>
<text x="1510.1" y="1252.5" font-family="Liberation Sans, sans-serif" font-size="24" text-anchor="middle">0</text>
<text x="1611.3" y="1252.5" font-family="Liberation Sans, sans-serif" font-size="24" text-anchor="middle">0.01</text>
<text x="1712.5" y="1252.5" font-family="Liberation Sans, sans-serif" font-size="24" text-anchor="middle">0.02</text>
<text x="1510.1" y="1284" font-family="Liberation Sans, sans-serif" font-size="27" text-anchor="middle">x</text>
<text x="1291.3" y="870.0" font-family="Liberation Serif, serif" font-size="31" stroke="#000" stroke-width="0.55" text-anchor="middle">(iii)</text>
<rect x="1602.8" y="844.4" width="151" height="108" fill="#fff" stroke="#7f7f7f" stroke-width="1.2"/>
<path d="M1607.4 858.9h32.8" stroke="#320404" stroke-width="7.4"/>
<text x="1644.1" y="866.5" font-family="Liberation Sans, sans-serif" font-size="21.8">End of 1st</text>
<path d="M1607.4 885.2h32.8" stroke="#c4271b" stroke-width="7.4"/>
<text x="1644.1" y="892.8" font-family="Liberation Sans, sans-serif" font-size="21.8">End of 2nd</text>
<path d="M1607.4 911.5h32.8" stroke="#e9612a" stroke-width="7.4"/>
<text x="1644.1" y="919.1" font-family="Liberation Sans, sans-serif" font-size="21.8">End of 3rd</text>
<path d="M1607.4 937.8h32.8" stroke="#f9e84a" stroke-width="7.4"/>
<text x="1644.1" y="945.4" font-family="Liberation Sans, sans-serif" font-size="21.8">End of 4th</text>
<text x="1622.2" y="981.0" font-family="Liberation Serif, serif" font-size="27.5" fill="#2a4f9c"><tspan font-style="italic">h</tspan> = 1.5 d<tspan font-size="19" dy="7">bell</tspan></text>
<defs>
<linearGradient id="gOut" x1="255" y1="0" x2="425" y2="0" gradientUnits="userSpaceOnUse"><stop offset="0" stop-color="#c2c2c2"/><stop offset="0.25" stop-color="#dcdcdc"/><stop offset="0.55" stop-color="#e2e2e2"/><stop offset="0.8" stop-color="#d6d6d6"/><stop offset="1" stop-color="#c0c0c0"/></linearGradient>
<linearGradient id="gMid" x1="280" y1="0" x2="398" y2="0" gradientUnits="userSpaceOnUse"><stop offset="0" stop-color="#aaaaaa"/><stop offset="0.5" stop-color="#b9b9b9"/><stop offset="1" stop-color="#acacac"/></linearGradient>
<linearGradient id="gBell" x1="0" y1="765" x2="0" y2="842" gradientUnits="userSpaceOnUse"><stop offset="0" stop-color="#7c7c7c"/><stop offset="0.45" stop-color="#5e5e5e"/><stop offset="1" stop-color="#424242"/></linearGradient>
<linearGradient id="gSub" x1="0" y1="841" x2="0" y2="925" gradientUnits="userSpaceOnUse"><stop offset="0" stop-color="#c8b48a"/><stop offset="0.08" stop-color="#efd9ab"/><stop offset="0.2" stop-color="#f6dea9"/><stop offset="1" stop-color="#f7dca6"/></linearGradient>
<filter id="bl1" x="-20%" y="-20%" width="140%" height="140%"><feGaussianBlur stdDeviation="2.5"/></filter>
<filter id="bl2" x="-20%" y="-20%" width="140%" height="140%"><feGaussianBlur stdDeviation="1"/></filter>
</defs>
<path d="M151.3 839.3 C151.7 837.8 152.4 833.7 153.5 830.3 C154.6 826.9 154.7 823.5 158.1 819.0 C161.5 814.5 168.6 808.9 173.9 803.2 C179.2 797.6 182.9 790.0 189.7 785.1 C196.5 780.2 205.8 777.3 214.5 773.9 C223.2 770.5 231.4 767.4 241.6 764.8 C251.8 762.2 267.0 760.1 275.4 758.1 C283.8 756.1 288.2 756.1 292.0 753.0 C295.8 749.9 296.5 744.2 297.9 739.7 C299.3 735.2 299.4 730.4 300.2 725.7 C301.0 721.1 302.5 716.4 302.5 711.8 C302.5 707.2 301.8 702.5 300.2 697.9 C298.6 693.2 295.5 688.2 293.2 683.9 C290.9 679.6 288.6 676.9 286.3 672.3 C284.0 667.7 280.9 661.9 279.3 656.1 C277.8 650.3 276.8 644.1 277.0 637.5 C277.2 630.9 280.1 623.1 280.5 616.6 C280.9 610.1 278.7 604.7 279.3 598.6 C279.9 592.5 282.0 585.8 283.9 580.0 C285.8 574.2 289.0 569.2 290.9 563.8 C292.8 558.4 294.5 553.3 295.5 547.5 C296.5 541.7 296.3 535.1 296.7 528.9 C297.1 522.7 297.7 517.0 297.9 510.4 C298.1 503.8 298.7 495.7 297.9 489.5 C297.1 483.3 295.5 478.2 293.2 473.2 C290.9 468.2 287.2 463.9 283.9 459.3 C280.6 454.7 276.0 450.4 273.5 445.4 C271.0 440.4 269.2 435.3 268.8 429.1 C268.4 422.9 271.0 414.0 271.2 408.2 C271.4 402.4 271.8 398.2 270.0 394.3 C268.2 390.4 263.0 388.5 260.7 385.0 C258.4 381.5 256.6 377.2 256.1 373.4 C255.7 369.6 256.4 365.1 258.0 362.0 C259.6 358.9 261.1 358.7 265.4 354.8 C269.7 350.9 276.9 342.9 283.9 338.6 C290.9 334.4 297.5 331.6 307.2 329.3 C316.9 327.0 331.2 324.6 342.0 324.6 C352.8 324.6 363.3 326.6 372.2 329.3 C381.1 332.0 388.4 336.3 395.4 340.9 C402.3 345.5 409.4 351.7 413.9 357.1 C418.3 362.5 421.3 369.1 422.1 373.4 C422.9 377.7 420.5 379.6 418.6 382.7 C416.7 385.8 412.4 388.9 410.5 392.0 C408.6 395.1 407.2 397.1 407.0 401.3 C406.8 405.6 408.7 412.5 409.3 417.5 C409.9 422.5 411.3 426.0 410.5 431.4 C409.7 436.8 407.2 444.6 404.7 450.0 C402.2 455.4 398.5 459.2 395.4 463.9 C392.3 468.5 388.2 472.5 386.1 477.9 C384.0 483.3 383.2 489.4 382.6 496.4 C382.0 503.4 382.4 512.0 382.6 519.7 C382.8 527.5 383.2 536.0 383.8 542.9 C384.4 549.8 385.0 556.0 386.1 561.4 C387.2 566.8 388.9 570.6 390.7 575.4 C392.5 580.2 395.1 585.8 397.0 590.0 C398.9 594.2 401.8 595.2 402.3 600.4 C402.8 605.6 399.8 615.1 400.0 621.3 C400.2 627.5 403.1 631.7 403.5 637.5 C403.9 643.3 403.7 650.7 402.3 656.1 C400.9 661.5 398.1 665.4 395.4 670.0 C392.7 674.6 388.4 679.2 386.1 683.9 C383.8 688.5 382.8 693.2 381.4 697.9 C380.0 702.5 377.9 706.4 377.5 711.8 C377.1 717.2 377.7 725.0 379.1 730.4 C380.5 735.8 383.4 740.4 386.1 744.3 C388.8 748.2 390.0 750.5 395.4 753.6 C400.8 756.7 408.9 759.4 418.6 762.9 C428.3 766.4 443.7 770.6 453.4 774.5 C463.1 778.4 468.9 781.5 476.6 786.1 C484.3 790.7 493.2 796.9 499.8 802.3 C506.4 807.7 512.1 812.8 516.1 818.6 C520.1 824.4 523.9 832.1 523.7 837.1 C523.5 842.1 517.0 845.8 514.7 848.4 C512.5 851.0 510.9 852.1 510.2 852.9 Z" fill="url(#gOut)" stroke="#a2a2a2" stroke-width="0.9"/>
<clipPath id="cpOut"><path d="M151.3 839.3 C151.7 837.8 152.4 833.7 153.5 830.3 C154.6 826.9 154.7 823.5 158.1 819.0 C161.5 814.5 168.6 808.9 173.9 803.2 C179.2 797.6 182.9 790.0 189.7 785.1 C196.5 780.2 205.8 777.3 214.5 773.9 C223.2 770.5 231.4 767.4 241.6 764.8 C251.8 762.2 267.0 760.1 275.4 758.1 C283.8 756.1 288.2 756.1 292.0 753.0 C295.8 749.9 296.5 744.2 297.9 739.7 C299.3 735.2 299.4 730.4 300.2 725.7 C301.0 721.1 302.5 716.4 302.5 711.8 C302.5 707.2 301.8 702.5 300.2 697.9 C298.6 693.2 295.5 688.2 293.2 683.9 C290.9 679.6 288.6 676.9 286.3 672.3 C284.0 667.7 280.9 661.9 279.3 656.1 C277.8 650.3 276.8 644.1 277.0 637.5 C277.2 630.9 280.1 623.1 280.5 616.6 C280.9 610.1 278.7 604.7 279.3 598.6 C279.9 592.5 282.0 585.8 283.9 580.0 C285.8 574.2 289.0 569.2 290.9 563.8 C292.8 558.4 294.5 553.3 295.5 547.5 C296.5 541.7 296.3 535.1 296.7 528.9 C297.1 522.7 297.7 517.0 297.9 510.4 C298.1 503.8 298.7 495.7 297.9 489.5 C297.1 483.3 295.5 478.2 293.2 473.2 C290.9 468.2 287.2 463.9 283.9 459.3 C280.6 454.7 276.0 450.4 273.5 445.4 C271.0 440.4 269.2 435.3 268.8 429.1 C268.4 422.9 271.0 414.0 271.2 408.2 C271.4 402.4 271.8 398.2 270.0 394.3 C268.2 390.4 263.0 388.5 260.7 385.0 C258.4 381.5 256.6 377.2 256.1 373.4 C255.7 369.6 256.4 365.1 258.0 362.0 C259.6 358.9 261.1 358.7 265.4 354.8 C269.7 350.9 276.9 342.9 283.9 338.6 C290.9 334.4 297.5 331.6 307.2 329.3 C316.9 327.0 331.2 324.6 342.0 324.6 C352.8 324.6 363.3 326.6 372.2 329.3 C381.1 332.0 388.4 336.3 395.4 340.9 C402.3 345.5 409.4 351.7 413.9 357.1 C418.3 362.5 421.3 369.1 422.1 373.4 C422.9 377.7 420.5 379.6 418.6 382.7 C416.7 385.8 412.4 388.9 410.5 392.0 C408.6 395.1 407.2 397.1 407.0 401.3 C406.8 405.6 408.7 412.5 409.3 417.5 C409.9 422.5 411.3 426.0 410.5 431.4 C409.7 436.8 407.2 444.6 404.7 450.0 C402.2 455.4 398.5 459.2 395.4 463.9 C392.3 468.5 388.2 472.5 386.1 477.9 C384.0 483.3 383.2 489.4 382.6 496.4 C382.0 503.4 382.4 512.0 382.6 519.7 C382.8 527.5 383.2 536.0 383.8 542.9 C384.4 549.8 385.0 556.0 386.1 561.4 C387.2 566.8 388.9 570.6 390.7 575.4 C392.5 580.2 395.1 585.8 397.0 590.0 C398.9 594.2 401.8 595.2 402.3 600.4 C402.8 605.6 399.8 615.1 400.0 621.3 C400.2 627.5 403.1 631.7 403.5 637.5 C403.9 643.3 403.7 650.7 402.3 656.1 C400.9 661.5 398.1 665.4 395.4 670.0 C392.7 674.6 388.4 679.2 386.1 683.9 C383.8 688.5 382.8 693.2 381.4 697.9 C380.0 702.5 377.9 706.4 377.5 711.8 C377.1 717.2 377.7 725.0 379.1 730.4 C380.5 735.8 383.4 740.4 386.1 744.3 C388.8 748.2 390.0 750.5 395.4 753.6 C400.8 756.7 408.9 759.4 418.6 762.9 C428.3 766.4 443.7 770.6 453.4 774.5 C463.1 778.4 468.9 781.5 476.6 786.1 C484.3 790.7 493.2 796.9 499.8 802.3 C506.4 807.7 512.1 812.8 516.1 818.6 C520.1 824.4 523.9 832.1 523.7 837.1 C523.5 842.1 517.0 845.8 514.7 848.4 C512.5 851.0 510.9 852.1 510.2 852.9 Z"/></clipPath>
<linearGradient id="gCap" x1="0" y1="322" x2="0" y2="400" gradientUnits="userSpaceOnUse"><stop offset="0" stop-color="#a8a8a8" stop-opacity="0.45"/><stop offset="0.6" stop-color="#b0b0b0" stop-opacity="0.2"/><stop offset="1" stop-color="#b0b0b0" stop-opacity="0"/></linearGradient>
<rect x="250" y="320" width="180" height="80" fill="url(#gCap)" clip-path="url(#cpOut)"/>
<path d="M151 840 C160 805 200 775 275 760 L300 752 C330 750 360 752 390 756 C440 766 490 785 520 822 C526 838 516 850 510 853 L166 846 Z" fill="#c8c8c8" opacity="0.2"/>
<path d="M166 841 H510.2 V873 Q510.2 924.6 474 924.6 H208 Q166 924.6 166 876 Z" fill="url(#gSub)"/>
<path d="M300.5 717 C306 716 311 724 312 733 C312.5 741 309 746 306 745 C303 741 301 735 299.5 730 Z" fill="#fbfbfb"/>
<path d="M367 719 L376 716 L379 724 L378 737 L371 739 L367 731 Z" fill="#f6f6f6"/>
<path d="M371 722 L376 728 L372 734 Z" fill="#ffffff"/>
<path d="M325 705 C330 725 335 740 338 760 M352 705 C348 725 344 745 342 760" stroke="#a8a8a8" stroke-width="1" fill="none" opacity="0.7"/>
<path d="M283.9 371.1 C285.2 367.2 285.5 368.3 288.6 366.4 C291.7 364.5 297.1 361.8 302.5 359.5 C307.9 357.2 314.9 354.2 321.1 352.5 C327.3 350.8 332.7 349.2 339.7 349.0 C346.7 348.8 355.9 349.6 362.9 351.3 C369.8 353.1 376.0 355.8 381.4 359.5 C386.8 363.2 392.7 368.8 395.4 373.4 C398.1 378.0 397.7 381.5 397.7 387.3 C397.7 393.1 396.6 402.0 395.4 408.2 C394.2 414.4 393.4 419.1 390.7 424.5 C388.0 429.9 382.2 434.9 379.1 440.7 C376.0 446.5 373.8 452.3 372.2 459.3 C370.6 466.3 370.6 474.8 369.8 482.5 C369.0 490.2 368.6 498.7 367.5 505.7 C366.4 512.7 366.0 519.3 362.9 524.3 C359.8 529.3 353.2 533.8 348.9 535.9 C344.6 538.0 341.2 538.3 337.3 537.1 C333.4 535.9 328.6 533.4 325.7 528.9 C322.8 524.4 321.4 517.4 319.9 510.4 C318.3 503.4 317.4 494.2 316.4 487.2 C315.4 480.2 315.6 474.8 314.1 468.6 C312.6 462.4 310.7 456.2 307.2 450.0 C303.7 443.8 297.1 437.6 293.2 431.4 C289.3 425.2 286.0 419.9 283.9 412.9 C281.8 405.9 280.5 396.6 280.5 389.6 C280.5 382.6 282.5 375.0 283.9 371.1 Z" fill="url(#gMid)"/>
<path d="M330 485 C335 505 338 525 340 535 C344 520 348 505 352 485 Z" fill="#c2c2c2" opacity="0.6" filter="url(#bl2)"/>
<path d="M311.8 389.6 C313.6 385.7 317.6 381.1 321.1 378.0 C324.6 374.9 328.1 372.1 332.7 371.1 C337.3 370.1 343.1 370.6 348.9 372.2 C354.7 373.8 363.1 376.3 367.5 380.4 C371.9 384.5 374.4 391.2 375.6 396.6 C376.8 402.0 375.6 407.5 374.5 412.9 C373.4 418.3 370.6 422.9 368.7 429.1 C366.8 435.3 364.8 443.4 362.9 450.0 C361.0 456.6 359.4 463.8 357.1 468.6 C354.8 473.4 351.8 477.1 348.9 479.0 C346.0 480.9 342.8 481.2 339.7 480.2 C336.6 479.2 333.1 477.5 330.4 473.2 C327.7 468.9 325.3 461.6 323.4 454.6 C321.5 447.6 320.5 438.3 318.8 431.4 C317.1 424.4 314.4 417.9 313.0 412.9 C311.6 407.9 310.8 405.2 310.6 401.3 C310.4 397.4 310.1 393.5 311.8 389.6 Z" fill="#8e8e8e"/>
<path d="M339.7 564.4 C336.2 565.0 330.3 565.4 325.7 567.9 C321.1 570.4 316.4 575.2 311.8 579.5 C307.2 583.8 301.4 589.1 297.9 593.4 C294.4 597.6 292.1 598.4 290.9 605.0 C289.7 611.6 290.5 625.5 290.9 632.9 C291.3 640.2 291.3 644.1 293.2 649.1 C295.1 654.1 299.4 658.4 302.5 663.0 C305.6 667.6 308.7 673.7 311.8 677.0 C314.9 680.3 316.5 681.4 321.1 682.8 C325.8 684.1 333.5 684.9 339.7 685.1 C345.9 685.3 353.2 684.5 358.2 683.9 C363.2 683.3 365.9 683.9 369.8 681.6 C373.7 679.3 377.9 675.4 381.4 670.0 C384.9 664.6 388.8 656.1 390.7 649.1 C392.6 642.1 392.8 635.6 393.0 628.2 C393.2 620.9 393.4 610.8 391.9 605.0 C390.4 599.2 387.1 597.3 383.8 593.4 C380.5 589.5 376.5 586.0 372.2 581.8 C367.9 577.5 362.5 570.8 358.2 567.9 C353.9 565.0 349.7 565.0 346.6 564.4 C343.5 563.8 343.2 563.8 339.7 564.4 Z" fill="#adadad"/>
<path d="M300.2 605.0 C302.5 602.3 307.6 599.9 311.8 598.0 C316.1 596.1 321.1 594.5 325.7 593.4 C330.3 592.2 334.7 591.3 339.7 591.1 C344.7 590.9 350.9 591.1 355.9 592.2 C360.9 593.4 365.6 595.5 369.8 598.0 C374.1 600.5 378.9 603.0 381.4 607.3 C383.9 611.6 384.5 618.2 384.9 623.6 C385.3 629.0 385.1 634.8 383.8 639.8 C382.5 644.8 379.1 650.3 376.8 653.8 C374.5 657.3 374.5 659.2 369.8 660.7 C365.1 662.2 356.2 662.6 348.9 663.0 C341.5 663.4 332.3 663.4 325.7 663.0 C319.1 662.6 313.4 663.0 309.5 660.7 C305.6 658.4 304.4 653.7 302.5 649.1 C300.6 644.5 298.7 638.7 297.9 632.9 C297.1 627.1 297.5 618.9 297.9 614.3 C298.3 609.6 297.9 607.7 300.2 605.0 Z" fill="#8f8f8f"/>
<path d="M315 622 L319 626 L318 636 L314 633 Z M331 628 L337 624 L340 619 L343 624 L350 627 L360 626 L369 622 L371 631 L368 635 L358 632 L348 632 L342 635 L339 637 L334 632 Z" fill="#6c6c6c"/>
<path d="M305 655 L318 640 M378 655 L366 640 M320 598 L330 596" stroke="#7a7a7a" stroke-width="0.8"/>
<path d="M167.0 835.4 C170.0 833.9 178.7 828.7 185.0 826.4 C191.3 824.1 198.8 823.2 205.0 821.6 C211.2 820.0 217.8 821.5 222.0 817.0 C226.2 812.5 227.0 800.4 230.3 794.8 C233.6 789.2 237.1 786.9 241.6 783.5 C246.1 780.1 251.8 776.8 257.4 774.5 C263.0 772.2 268.6 771.1 275.4 770.0 C282.2 768.9 290.5 767.7 298.0 767.7 C305.5 767.7 313.1 770.0 320.6 770.0 C328.1 770.0 335.7 768.5 343.2 767.7 C350.7 767.0 358.2 766.2 365.7 765.5 C373.2 764.8 380.8 762.5 388.3 763.2 C395.8 764.0 403.4 766.2 410.9 770.0 C418.4 773.8 427.9 780.9 433.5 785.8 C439.1 790.7 440.9 794.8 444.7 799.3 C448.4 803.8 450.4 809.5 456.0 812.9 C461.6 816.3 471.1 817.4 478.6 819.6 C486.1 821.9 495.9 823.8 501.2 826.4 C506.5 829.0 508.7 833.9 510.2 835.4 L510.2 841.5 L167 841.5 Z" fill="url(#gBell)"/>
<path d="M240.0 812.0 C238.8 806.0 244.3 795.5 248.0 790.0 C251.7 784.5 256.7 781.5 262.0 779.0 C267.3 776.5 273.7 776.0 280.0 775.0 C286.3 774.0 293.0 772.8 300.0 773.0 C307.0 773.2 314.5 776.2 322.0 776.0 C329.5 775.8 337.3 773.0 345.0 772.0 C352.7 771.0 360.5 770.7 368.0 770.0 C375.5 769.3 383.0 767.2 390.0 768.0 C397.0 768.8 404.7 771.3 410.0 775.0 C415.3 778.7 419.5 785.0 422.0 790.0 C424.5 795.0 425.7 799.7 425.0 805.0 C424.3 810.3 422.2 818.5 418.0 822.0 C413.8 825.5 408.0 825.3 400.0 826.0 C392.0 826.7 381.7 825.7 370.0 826.0 C358.3 826.3 343.3 827.7 330.0 828.0 C316.7 828.3 302.5 828.3 290.0 828.0 C277.5 827.7 263.3 828.7 255.0 826.0 C246.7 823.3 241.2 818.0 240.0 812.0 Z" fill="#3a3a3a" opacity="0.55" filter="url(#bl1)"/>
<ellipse cx="462" cy="797" rx="26" ry="13" fill="#ececec" opacity="0.55" filter="url(#bl1)"/>
<ellipse cx="192" cy="798" rx="18" ry="10" fill="#ececec" opacity="0.5" filter="url(#bl1)"/>
<path d="M248 800 C250 785 262 776 280 774 C295 774 303 785 302 800 C300 812 285 818 268 816 C255 814 248 808 248 800 Z" fill="#2e2e2e" opacity="0.5" filter="url(#bl1)"/>
<path d="M368 792 C370 778 382 768 398 768 C412 770 422 782 420 798 C418 812 404 818 388 816 C374 814 367 804 368 792 Z" fill="#2e2e2e" opacity="0.5" filter="url(#bl1)"/>
<path d="M310 775 C325 770 345 770 362 776 C364 790 358 800 340 802 C322 802 312 792 310 775 Z" fill="#8a8a8a" opacity="0.45" filter="url(#bl1)"/>
<path d="M300 812 C320 806 340 818 360 812 C380 806 400 810 420 816 L420 826 L300 826 Z" fill="#262626" opacity="0.45" filter="url(#bl2)"/>
<path d="M428 790 C440 805 470 815 505 826 L510 838 L425 836 Z" fill="#9a9a9a" opacity="0.5" filter="url(#bl2)"/>
<path d="M167 833 C220 826 300 828 400 828 C450 828 490 828 510 834 L510 842 L167 842 Z" fill="#2e2e2e" opacity="0.85" filter="url(#bl2)"/>
<g stroke="#8c8c8c" stroke-width="0.9" fill="none" opacity="0.8"><path d="M160 820 L175 812 L182 800"/><path d="M190 792 L200 800 L210 796"/><path d="M440 770 L455 790 L470 795"/><path d="M480 790 L495 805 L505 808"/><path d="M300 758 L320 764 L335 760"/><path d="M460 800 L470 812"/></g>
<path d="M297 842 L300 865 L296 878 L306 890 L310 880 L304 865 L315 845 Z" fill="#e8dcc8" opacity="0.8"/>
<path d="M385 842 L395 860 L405 872 L410 888 L414 880 L402 855 L420 845 Z" fill="#e8dcc8" opacity="0.8"/>
<path d="M300 842 L420 842 L415 855 L300 852 Z" fill="#efe4d0" opacity="0.6"/>
<path d="M159 379.9H518" stroke="#561c98" stroke-width="3" stroke-dasharray="2.9 4"/>
<path d="M159 544.7H518" stroke="#561c98" stroke-width="3" stroke-dasharray="2.9 4"/>
<path d="M159 702.5H518" stroke="#561c98" stroke-width="3" stroke-dasharray="2.9 4"/>
<path d="M170.2 723.0V819.7" stroke="#b3221a" stroke-width="2"/>
<path d="M170.2 709.0 L178.2 724.5 L162.2 724.5 Z" fill="#b3221a"/>
<path d="M170.2 833.7 L178.2 818.2 L162.2 818.2 Z" fill="#b3221a"/>
<path d="M199.7 567.3V819.7" stroke="#b3221a" stroke-width="2"/>
<path d="M199.7 553.3 L207.7 568.8 L191.7 568.8 Z" fill="#b3221a"/>
<path d="M199.7 833.7 L207.7 818.2 L191.7 818.2 Z" fill="#b3221a"/>
<path d="M227.1 403.6V819.7" stroke="#b3221a" stroke-width="2"/>
<path d="M227.1 389.6 L235.1 405.1 L219.1 405.1 Z" fill="#b3221a"/>
<path d="M227.1 833.7 L235.1 818.2 L219.1 818.2 Z" fill="#b3221a"/>
<text x="57.5" y="477.6" font-family="Liberation Serif, serif" stroke="#000" stroke-width="0.35" font-size="34.5"><tspan font-style="italic">h</tspan> = 1.5 d<tspan font-size="24" dy="8.5">bell</tspan></text>
<text x="85.4" y="636.5" font-family="Liberation Serif, serif" stroke="#000" stroke-width="0.35" font-size="34.5"><tspan font-style="italic">h</tspan> = d<tspan font-size="24" dy="8.5">bell</tspan></text>
<text x="5.1" y="778.7" font-family="Liberation Serif, serif" stroke="#000" stroke-width="0.35" font-size="34.5"><tspan font-style="italic">h</tspan> = 0.5 d<tspan font-size="24" dy="8.5">bell</tspan></text>
<text x="345.5" y="977.1" font-family="Liberation Serif, serif" stroke="#000" stroke-width="0.35" font-size="32" text-anchor="middle">(A)</text>
</svg></body></html>
